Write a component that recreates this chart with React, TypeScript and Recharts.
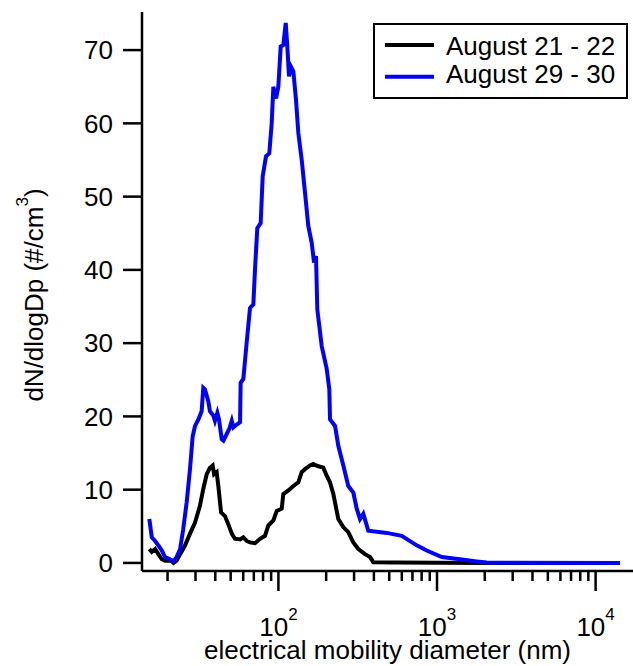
import React from "react";
import { LineChart, Line, XAxis, YAxis, Legend, Label } from "recharts";

// diameters (nm) and dN/dlogDp values
const aug21Dp = [
  15.35, 15.9, 16.7, 17.5, 18.4, 19.3, 20.5, 20.9, 21.8, 22.8, 24.0, 25.8, 27.7,
  29.8, 32.0, 33.6, 35.3, 37.0, 38.5, 39.3, 40.8, 41.8, 43.5, 46.0, 48.3, 50.8,
  53.2, 57.3, 60.1, 63.1, 66.2, 71.2, 76.6, 82.3, 86.3, 92.9, 97.6, 104.9, 107.4,
  115.5, 124.2, 133.5, 140.3, 147.2, 158.1, 166.0, 172.6, 178.5, 191.9, 201.6,
  211.5, 222.0, 238.6, 256.6, 275.9, 296.7, 319.3, 351.6, 378.1, 396.7, 557.4,
  1000, 2000, 14250,
];
const aug21Vals = [
  1.9, 1.5, 1.9, 1.2, 0.5, 0.3, 0.3, 0.4, 0.0, 0.3, 1.2, 2.4, 4.0, 5.5, 7.8,
  10.1, 12.1, 13.0, 13.3, 12.1, 12.4, 10.5, 6.9, 6.4, 5.3, 4.0, 3.3, 3.2, 3.5,
  3.0, 2.8, 2.7, 3.3, 3.7, 5.1, 5.8, 7.1, 7.4, 9.4, 9.9, 10.5, 11.0, 12.4, 12.8,
  13.3, 13.5, 13.3, 13.2, 13.0, 11.9, 11.0, 9.4, 6.0, 4.9, 4.2, 2.8, 1.9, 1.2,
  0.8, 0.1, 0.05, 0.02, 0, 0,
];

const aug29Dp = [
  15.35, 15.9, 16.7, 17.5, 18.4, 19.3, 20.7, 21.8, 22.8, 24.0, 25.1, 26.4, 27.7,
  28.8, 29.8, 31.3, 32.8, 33.6, 34.4, 36.1, 37.0, 38.9, 39.8, 41.2, 42.2, 43.9,
  45.0, 47.2, 49.0, 50.8, 52.0, 54.6, 57.3, 57.8, 60.1, 63.1, 66.2, 69.5, 71.2,
  73.6, 77.3, 79.6, 83.5, 87.6, 90.7, 92.9, 96.6, 99.9, 103.4, 107.4, 111.2,
  113.8, 116.6, 119.5, 124.2, 129.1, 133.5, 140.3, 147.2, 154.3, 162.2, 167.7,
  172.6, 175.9, 187.5, 201.6, 209.4, 211.5, 227.5, 238.6, 256.6, 275.9, 296.7,
  311.7, 327.0, 343.0, 368.8, 481.7, 599.0, 744.8, 861.3, 1071, 1396, 1780,
  2058, 14250,
];
const aug29Vals = [
  6.0, 3.5, 3.0, 2.4, 1.7, 0.8, 0.5, 0.2, 0.8, 1.9, 4.6, 8.3, 12.8, 17.3, 18.7,
  19.6, 20.7, 23.9, 23.7, 22.1, 20.7, 20.1, 19.4, 20.5, 19.6, 16.9, 16.7, 17.6,
  18.3, 19.4, 18.5, 18.9, 19.2, 24.6, 25.1, 30.1, 34.8, 35.3, 40.1, 45.7, 46.4,
  52.8, 55.5, 55.9, 60.0, 65.0, 63.4, 65.0, 70.5, 70.7, 73.7, 70.5, 66.4, 67.8,
  67.1, 63.2, 58.7, 55.0, 50.5, 46.0, 43.7, 41.0, 41.9, 34.6, 29.6, 26.5, 23.7,
  19.6, 18.7, 16.0, 13.3, 10.5, 9.6, 7.4, 6.0, 6.7, 4.4, 4.1, 3.7, 2.4, 1.7, 0.8,
  0.5, 0.2, 0.05, 0,
];

const seriesNames = ["August 21 - 22", "August 29 - 30"];
const seriesColors = ["#000000", "#0000ff"];

const xTicks = [
  20, 30, 40, 50, 60, 70, 80, 90, 100, 200, 300, 400, 500, 600, 700, 800, 900,
  1000, 2000, 3000, 4000, 5000, 6000, 7000, 8000, 9000, 10000,
];
const yTicks = [0, 10, 20, 30, 40, 50, 60, 70];

const xDomain = [13.8, 17210];
const yDomain = [-1.1, 75.2];

const font = "'Liberation Sans', Arial, sans-serif";

const aug21 = aug21Dp.map((d, i) => ({ dp: d, v: aug21Vals[i] }));
const aug29 = aug29Dp.map((d, i) => ({ dp: d, v: aug29Vals[i] }));

function XTick(props: any) {
  const { x, y, payload } = props;
  const exp = Math.log10(payload.value);
  const major = Math.abs(exp - Math.round(exp)) < 1e-6;
  return (
    <g>
      <line x1={x} x2={x} y1={y} y2={y + (major ? 20 : 10)} stroke="#000" strokeWidth={2.5} />
      {major && (
        <text x={x} y={636} textAnchor="middle" fontFamily={font} fill="#000">
          <tspan fontSize={26}>10</tspan>
          <tspan fontSize={17} dy={-16}>
            {Math.round(exp)}
          </tspan>
        </text>
      )}
    </g>
  );
}

function LegendBox() {
  return (
    <svg width={255} height={76} style={{ display: "block" }}>
      <rect x={1} y={1} width={253} height={74} fill="#fff" stroke="#000" strokeWidth={2} />
      {seriesNames.map((name, i) => (
        <g key={name}>
          <line x1={12} x2={61} y1={22 + i * 31.7} y2={22 + i * 31.7} stroke={seriesColors[i]} strokeWidth={4} />
          <text x={73} y={32 + i * 28.3} fontSize={26} fontFamily={font} fill="#000">
            {name}
          </text>
        </g>
      ))}
    </svg>
  );
}

export default function App() {
  return (
    <div style={{ position: "absolute", left: 0, top: 0, background: "#fff" }}>
      <LineChart width={633} height={666} margin={{ top: 12, right: 0, left: 0, bottom: 0 }}>
        <XAxis
          xAxisId="top"
          orientation="top"
          type="number"
          scale="log"
          domain={xDomain}
          allowDataOverflow
          height={0}
          tick={false}
          tickLine={false}
          axisLine={{ stroke: "#000", strokeWidth: 2.5 }}
        />
        <XAxis
          dataKey="dp"
          type="number"
          scale="log"
          domain={xDomain}
          allowDataOverflow
          ticks={xTicks}
          interval={0}
          height={95}
          tickSize={0}
          tickMargin={0}
          tickLine={false}
          tick={<XTick />}
          axisLine={{ stroke: "#000", strokeWidth: 2.5 }}
        >
          <Label
            content={(p: any) => (
              <text
                x={p.viewBox.x + p.viewBox.width / 2}
                y={659}
                textAnchor="middle"
                fontSize={26}
                fontFamily={font}
                fill="#000"
              >
                electrical mobility diameter (nm)
              </text>
            )}
          />
        </XAxis>
        <YAxis
          type="number"
          domain={yDomain}
          allowDataOverflow
          ticks={yTicks}
          interval={0}
          width={142}
          tickSize={19}
          tickMargin={10}
          tickLine={{ stroke: "#000", strokeWidth: 2.5 }}
          axisLine={{ stroke: "#000", strokeWidth: 2.5 }}
          tick={{ fontSize: 26, fill: "#000", fontFamily: font }}
        >
          <Label
            content={() => (
              <text
                x={43}
                y={295}
                transform="rotate(-90 43 295)"
                textAnchor="middle"
                fontSize={26}
                fontFamily={font}
                fill="#000"
              >
                <tspan>dN/dlogDp (#/cm</tspan>
                <tspan fontSize={17} dy={-15}>3</tspan>
                <tspan dy={15}>)</tspan>
              </text>
            )}
          />
        </YAxis>
        <Legend
          layout="horizontal"
          verticalAlign="middle"
          align="center"
          wrapperStyle={{ position: "absolute", left: 373, top: 23, width: 255, height: 76 }}
          content={() => <LegendBox />}
        />
        <Line
          data={aug21}
          dataKey="v"
          name={seriesNames[0]}
          stroke={seriesColors[0]}
          strokeWidth={4}
          dot={false}
          type="linear"
          isAnimationActive={false}
        />
        <Line
          data={aug29}
          dataKey="v"
          name={seriesNames[1]}
          stroke={seriesColors[1]}
          strokeWidth={4}
          dot={false}
          type="linear"
          isAnimationActive={false}
        />
      </LineChart>
    </div>
  );
}
